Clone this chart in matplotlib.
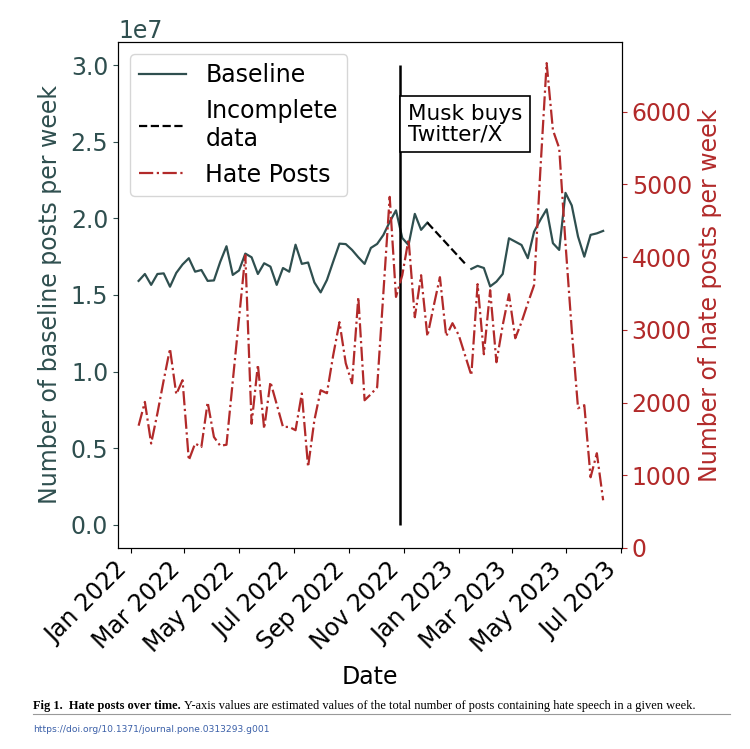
import matplotlib
matplotlib.use('Agg')
import matplotlib.pyplot as plt
import matplotlib.dates as mdates
from matplotlib.lines import Line2D
import numpy as np
import pandas as pd

# weekly data
weeks = pd.date_range('2022-01-09', periods=75, freq='W')

# baseline posts per week (in units of 1e7), NaN where data is incomplete
baseline = [1.592, 1.637, 1.566, 1.637, 1.641, 1.554, 1.644, 1.699, 1.740, 1.652,
            1.663, 1.592, 1.595, 1.716, 1.818, 1.631, 1.660, 1.770, 1.746, 1.637,
            1.707, 1.685, 1.566, 1.676, 1.652, 1.828, 1.703, 1.712, 1.582, 1.517,
            1.598, 1.718, 1.835, 1.832, 1.794, 1.746, 1.703, 1.807, 1.833, 1.892,
            1.977, 2.052, 1.872, 1.826, 2.029, 1.925, 1.972, None, None, None,
            None, None, None, 1.670, 1.690, 1.676, 1.556, 1.587, 1.637, 1.870,
            1.848, 1.826, 1.740, 1.913, 1.990, 2.059, 1.838, 1.794, 2.166, 2.084,
            1.881, 1.750, 1.892, 1.902, 1.918]

# incomplete-data segment (start / end)
incomplete_dates = pd.to_datetime(['2022-11-27', '2023-01-08'])
incomplete = [1.972, 1.705]

hate_posts = [1682, 2009, 1437, 1853, 2308, 2741, 2115, 2308, 1207, 1437,
              1390, 2005, 1527, 1406, 1420, 2294, 3161, 4028, 1709, 2521,
              1640, 2284, 1977, 1665, 1665, 1620, 2125, 1115, 1757, 2170,
              2129, 2652, 3106, 2541, 2266, 3450, 2032, 2115, 2211, 3518,
              4830, 3454, 3752, 4248, 3174, 3752, 2913, 3326, 3725, 2913,
              3092, 2927, 2652, 2376, 3629, 2665, 3546, 2555, 3064, 3491,
              2885, 3106, 3367, 3615, 5197, 6670, 5748, 5500, 4193, 2996,
              1922, 1964, 973, 1303, 656]

musk_date = pd.Timestamp('2022-10-27')

base_color = '#2f4f4f'
hate_color = '#b22a2a'
fs = 17

base_arr = np.array([np.nan if v is None else v for v in baseline]) * 1e7
inc_arr = np.array(incomplete) * 1e7

fig = plt.figure(figsize=(7.5, 7.49), dpi=100)
ax = fig.add_axes([0.1573, 0.2684, 0.672, 0.6755])
ax2 = ax.twinx()

ax.plot(weeks, base_arr, color=base_color, lw=1.6, label='Baseline')
ax.plot(incomplete_dates, inc_arr, color='black', lw=1.6, ls='--', label='Incomplete\ndata')
ax.vlines(musk_date, 0, 3e7, color='black', lw=1.8)
ax.text(musk_date + pd.Timedelta(days=9), 2.615e7, 'Musk buys\nTwitter/X', fontsize=15.5,
        va='center', ha='left', linespacing=1.0,
        bbox=dict(boxstyle='square,pad=0.36', fc='white', ec='black', lw=1.2))

ax2.plot(weeks, hate_posts, color=hate_color, lw=1.6, ls='-.', label='Hate Posts')

ax.set_xlim(pd.Timestamp('2021-12-17'), pd.Timestamp('2023-07-02'))
ax.set_ylim(-1.5e6, 3.15e7)
ax2.set_ylim(0, 6960)

ax.xaxis.set_major_locator(mdates.MonthLocator(bymonth=[1, 3, 5, 7, 9, 11]))
ax.xaxis.set_major_formatter(mdates.DateFormatter('%b %Y'))
plt.setp(ax.get_xticklabels(), rotation=45, ha='right', fontsize=fs)

ax.tick_params(axis='y', labelsize=fs, colors=base_color)
ax.yaxis.get_offset_text().set_fontsize(fs)
ax.yaxis.get_offset_text().set_color(base_color)
ax2.tick_params(axis='y', labelsize=fs, colors=hate_color)
ax2.set_yticks([0, 1000, 2000, 3000, 4000, 5000, 6000])

ax.set_xlabel('Date', fontsize=fs, labelpad=6)
ax.set_ylabel('Number of baseline posts per week', fontsize=fs, color=base_color, labelpad=6)
ax2.set_ylabel('Number of hate posts per week', fontsize=fs, color=hate_color)

h1, l1 = ax.get_legend_handles_labels()
h2, l2 = ax2.get_legend_handles_labels()
ax.legend(h1 + h2, l1 + l2, loc='upper left', fontsize=fs)

# caption
renderer = fig.canvas.get_renderer()
cap_y = 1 - 706 / 749
t1 = fig.text(0.044, cap_y, 'Fig 1.  Hate posts over time.', fontsize=8.9, weight='bold',
              family='Liberation Serif', va='center')
bb = t1.get_window_extent(renderer)
fig.text(bb.x1 / 750 + 0.005, cap_y,
         'Y-axis values are estimated values of the total number of posts containing hate speech in a given week.',
         fontsize=8.9, family='Liberation Serif', va='center')
fig.add_artist(Line2D([0.044, 0.973], [1 - 714 / 749] * 2, color='#999999', lw=0.8))
fig.text(0.044, 1 - 730 / 749, 'https://doi.org/10.1371/journal.pone.0313293.g001',
         fontsize=6.6, color='#3a5fa8', family=['Liberation Sans Narrow', 'DejaVu Sans'], va='center')

fig.savefig('out.png', dpi=100)
